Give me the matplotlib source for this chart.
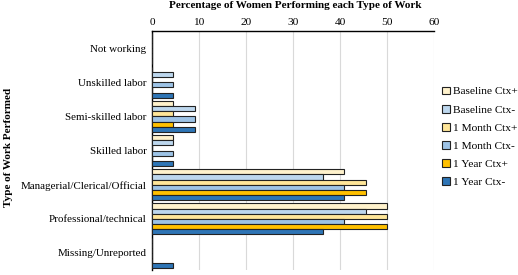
import matplotlib
matplotlib.use("Agg")
import matplotlib.pyplot as plt
import numpy as np

categories = ["Not working", "Unskilled labor", "Semi-skilled labor", "Skilled labor",
              "Managerial/Clerical/Official", "Professional/technical", "Missing/Unreported"]
series_names = ["Baseline Ctx+", "Baseline Ctx-", "1 Month Ctx+", "1 Month Ctx-",
                "1 Year Ctx+", "1 Year Ctx-"]
baseline_pos = [0, 0, 4.55, 4.55, 40.9, 50.0, 0]
baseline_neg = [0, 4.55, 9.09, 4.55, 36.4, 45.45, 0]
month_pos = [0, 0, 4.55, 0, 45.45, 50.0, 0]
month_neg = [0, 4.55, 9.09, 4.55, 40.9, 40.9, 0]
year_pos = [0, 0, 4.55, 0, 45.45, 50.0, 0]
year_neg = [0, 4.55, 9.09, 4.55, 40.9, 36.4, 4.55]
series = [baseline_pos, baseline_neg, month_pos, month_neg, year_pos, year_neg]
colors = ["#FFF2CC", "#BDD7EE", "#FFE699", "#9DC3E6", "#FFC000", "#2E75B6"]
xticks = [0, 10, 20, 30, 40, 50, 60]

plt.rcParams['font.family'] = ['Liberation Serif', 'DejaVu Serif']

fig = plt.figure(figsize=(5.18, 2.75), dpi=100)
ax = fig.add_axes([0.2934, 0.018, 0.5444, 0.869])

slot = 0.15
y = np.arange(len(categories))
for j, (vals, c, name) in enumerate(zip(series, colors, series_names)):
    ax.barh(y + (j - 2.5) * slot, vals, height=slot, color=c, edgecolor="#222222",
            linewidth=0.8, label=name, zorder=3)

ax.set_ylim(6.5, -0.5)
ax.set_xlim(0, 60)
ax.set_xticks(xticks)
ax.xaxis.tick_top()
ax.tick_params(axis='x', length=0, labelsize=8.2, pad=3)
ax.set_yticks(y)
ax.set_yticklabels(categories, fontsize=7.9)
ax.tick_params(axis='y', length=0, pad=4)
ax.grid(axis='x', color="#d9d9d9", linewidth=0.8, zorder=0)
for s in ["right", "bottom"]:
    ax.spines[s].set_visible(False)
ax.spines["left"].set_color("black")
ax.spines["top"].set_color("black")
ax.spines["left"].set_linewidth(1)
ax.spines["top"].set_linewidth(1)

fig.text(0.57, 1 - 6 / 275, "Percentage of Women Performing each Type of Work",
         fontsize=8, fontweight='bold', ha='center', va='center')
fig.text(0.017, 0.465, "Type of Work Performed", rotation=90, fontsize=8,
         fontweight='bold', ha='center', va='center')

leg = ax.legend(loc='center left', bbox_to_anchor=(1.0, 0.557), frameon=False,
                fontsize=8.2, handlelength=0.7, handleheight=0.7, handletextpad=0.3,
                labelspacing=0.72, borderaxespad=0.3)

fig.savefig("out.png", dpi=100)
